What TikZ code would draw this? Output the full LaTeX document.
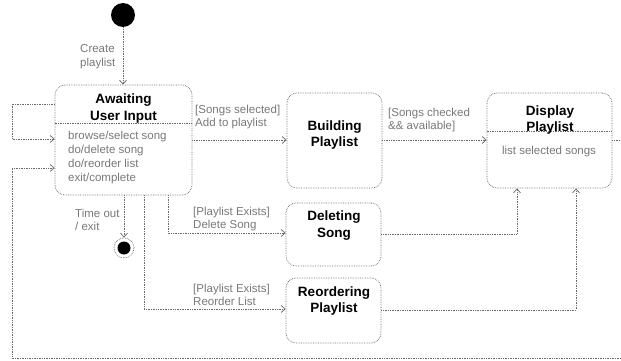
\documentclass[tikz,border=0pt]{standalone}
\usepackage{fontspec}
\setmainfont{Liberation Sans}
\usetikzlibrary{arrows.meta}
\definecolor{wire}{RGB}{105,105,105}
\definecolor{notegray}{RGB}{120,120,120}
\begin{document}
\begin{tikzpicture}[x=1pt,y=-1pt,
  state/.style={draw=wire, densely dotted, line width=0.7pt, rounded corners=10pt, inner sep=0pt},
  divider/.style={draw=wire, densely dotted, line width=0.7pt},
  title/.style={font=\fontsize{13.5}{16.5}\selectfont\bfseries, align=center, inner sep=0pt},
  note/.style={font=\fontsize{11.5}{13.7}\selectfont, text=notegray, align=left, inner sep=0pt},
  flow/.style={draw=wire, densely dotted, line width=0.7pt, -{Straight Barb[length=4pt,width=7pt]}},
  line/.style={draw=wire, densely dotted, line width=0.7pt}]
\useasboundingbox (0,0) rectangle (621,361);

% initial and final pseudo-states
\node[circle, fill=black, minimum size=24pt, inner sep=0pt] (init) at (123,15) {};
\node[circle, draw=wire, densely dotted, line width=0.7pt, minimum size=20pt, inner sep=0pt] (final) at (124,248) {};
\node[circle, fill=black, minimum size=13pt, inner sep=0pt] (finaldot) at (final.center) {};

% states
\node[state, minimum width=137pt, minimum height=110pt] (await) at (123.5,140) {};
\draw[divider] ([yshift=-39pt]await.north west) -- ([yshift=-39pt]await.north east);
\node[title] (awaitT) at (123.5,108.5) {Awaiting\\User Input};
\node[note, anchor=west] (awaitB) at (68,157.5) {browse/select song\\do/delete song\\do/reorder list\\exit/complete};

\node[state, minimum width=95pt, minimum height=95pt] (build) at (334.5,140.5) {};
\node[title] (buildT) at (334.5,135) {Building\\Playlist};

\node[state, minimum width=125pt, minimum height=95pt] (disp) at (549.5,140.5) {};
\draw[divider] ([yshift=-39pt]disp.north west) -- ([yshift=-39pt]disp.north east);
\node[title] (dispT) at (550,120) {Display\\Playlist};
\node[note, align=center] (dispB) at (549,152) {list selected songs};

\node[state, minimum width=95pt, minimum height=63pt] (del) at (333.5,234.5) {};
\node[title] (delT) at (334,225.5) {Deleting\\Song};

\node[state, minimum width=95pt, minimum height=65pt] (reord) at (333.5,310.5) {};
\node[title] (reordT) at (334,301) {Reordering\\Playlist};

% bend points of the connectors
\coordinate (loopA) at (12,104);
\coordinate (loopB) at (12,139);
\coordinate (delBend) at (168,233);
\coordinate (reBend) at (144,309);
\coordinate (delUp) at (517,234);
\coordinate (reUp) at (576,310);
\coordinate (backR) at (630,140);
\coordinate (backRB) at (630,358);
\coordinate (backLB) at (12,358);
\coordinate (backL) at (12,168);

% transitions
\draw[flow] (init.south) -- (init.south |- await.north);
\node[note, anchor=west] (lblCreate) at (80,56.5) {Create\\playlist};

\draw[flow] (await.west |- loopA) -- (loopA) -- (loopB) -- (await.west |- loopB);

\draw[flow] (await.east |- 0,140) -- (build.west |- 0,140);
\node[note, anchor=west] (lblSel) at (195,117) {[Songs selected]\\Add to playlist};

\draw[flow] (build.east |- 0,140) -- (disp.west |- 0,140);
\node[note, anchor=west] (lblChk) at (388,120) {[Songs checked\\\&\& available]};

\draw[flow] (await.south -| final.north) -- (final.north);
\node[note, anchor=west] (lblExit) at (75,220) {Time out\\/ exit};

\draw[flow] (await.south -| delBend) -- (delBend) -- (del.west |- delBend);
\node[note, anchor=west] (lblDel) at (193,219) {[Playlist Exists]\\Delete Song};

\draw[flow] (await.south -| reBend) -- (reBend) -- (reord.west |- reBend);
\node[note, anchor=west] (lblRe) at (193,295) {[Playlist Exists]\\Reorder List};

\draw[flow] (del.east |- delUp) -- (delUp) -- (disp.south -| delUp);
\draw[flow] (reord.east |- reUp) -- (reUp) -- (disp.south -| reUp);

\draw[flow] (disp.east |- backR) -- (backR) -- (backRB) -- (backLB) -- (backL) -- (await.west |- backL);
\end{tikzpicture}
\end{document}
